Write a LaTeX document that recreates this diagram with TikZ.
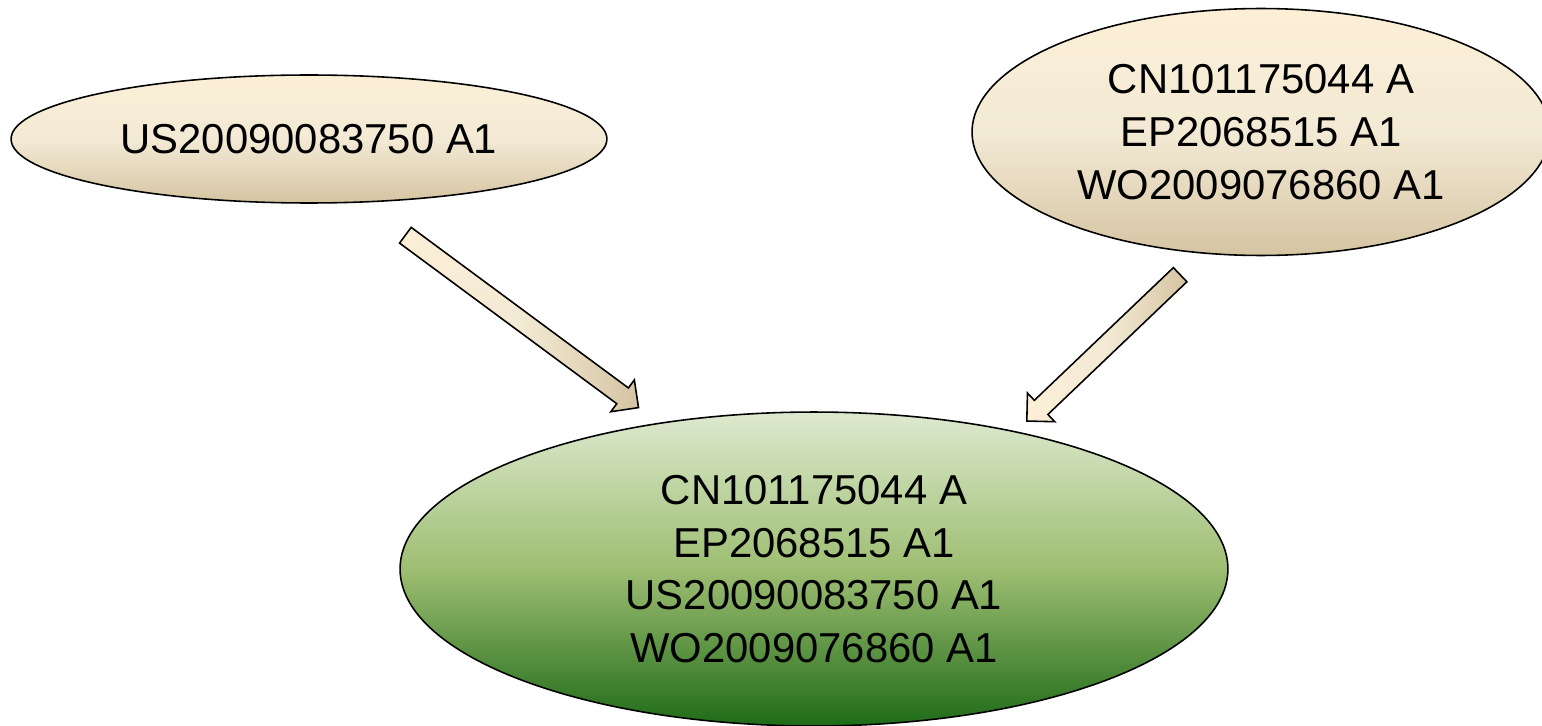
\documentclass[tikz,border=0pt]{standalone}
\usepackage{fontspec}
\setmainfont{Liberation Sans}
\usetikzlibrary{shapes.geometric,shapes.arrows}
\definecolor{creamtop}{HTML}{FCEFD6}
\definecolor{creammid}{HTML}{F3EAD5}
\definecolor{creambot}{HTML}{D5C4A2}
\definecolor{greentop}{HTML}{DDE9CF}
\definecolor{greenmid}{HTML}{9EBE72}
\definecolor{greenbot}{HTML}{1F6B18}

\begin{document}
\begin{tikzpicture}[x=0.02cm, y=-0.02cm,
    patent/.style={ellipse, draw=black, line width=0.9pt, inner sep=0pt, align=center,
      font=\fontsize{23.8}{30}\selectfont},
    family/.style={patent, top color=creamtop, bottom color=creambot, middle color=creammid},
    merged/.style={patent, top color=greentop, bottom color=greenbot, middle color=greenmid},
    blockarrow/.style={single arrow, draw=black, line width=0.9pt, inner xsep=0pt,
      inner ysep=0.18cm, single arrow head extend=0.2cm,
      left color=creamtop, right color=creambot, middle color=creammid}]
  \useasboundingbox (0,0) rectangle (1542,726);

  % source families
  \node[family, minimum width=11.92cm, minimum height=2.56cm] (us) at (309,139)
    {US20090083750 A1};
  \node[family, minimum width=11.56cm, minimum height=4.94cm] (cn) at (1261,132)
    {CN101175044 A\\EP2068515 A1\\WO2009076860 A1};

  % merged family
  \node[merged, minimum width=16.56cm, minimum height=6.28cm] (all) at (814,569)
    {CN101175044 A\\EP2068515 A1\\US20090083750 A1\\WO2009076860 A1};

  % arrow ends
  \coordinate (usout) at (401,232);
  \coordinate (cnout) at (1184,271);
  \coordinate (allinl) at (635,405);
  \coordinate (allinr) at (1030,418);

  \path (usout) -- (allinl) node[midway, sloped, allow upside down, blockarrow,
    minimum height=5.8cm] {};
  \path (cnout) -- (allinr) node[midway, sloped, allow upside down, blockarrow,
    minimum height=4.24cm] {};
\end{tikzpicture}
\end{document}
